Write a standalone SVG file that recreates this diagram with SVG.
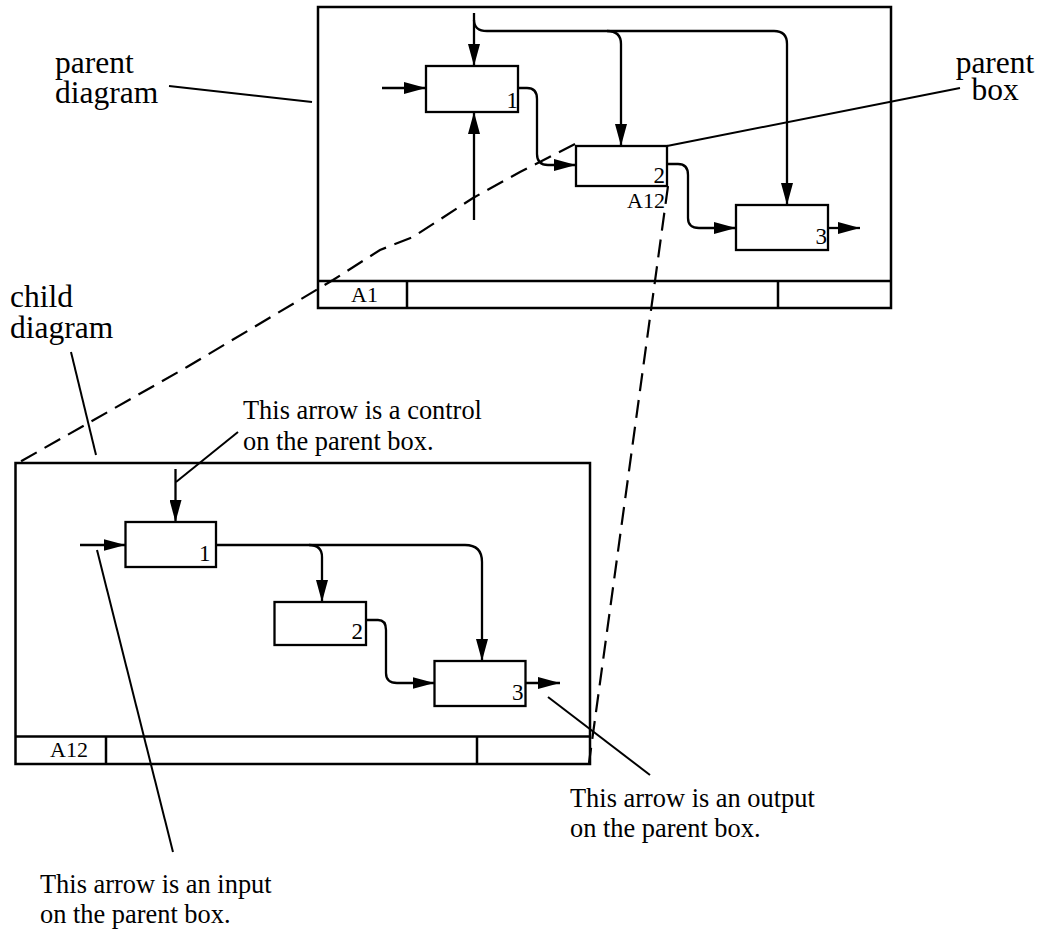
<svg xmlns="http://www.w3.org/2000/svg" width="1040" height="932" viewBox="0 0 1040 932">
<style>
  .frame{fill:none;stroke:#000;stroke-width:2.5}
  .box{fill:#fff;stroke:#000;stroke-width:2.3}
  .conn{fill:none;stroke:#000;stroke-width:2.3;marker-end:url(#ah)}
  .line{fill:none;stroke:#000;stroke-width:2.3}
  .ptr{fill:none;stroke:#000;stroke-width:2}
  .dash{fill:none;stroke:#000;stroke-width:2.2;stroke-dasharray:18 9}
  .lbl{font-family:"Liberation Serif","Times New Roman",serif;font-size:31.5px;fill:#000}
  .note{font-family:"Liberation Serif","Times New Roman",serif;font-size:26.4px;fill:#000}
  .num{font-family:"Liberation Serif","Times New Roman",serif;font-size:23px;fill:#000;text-anchor:end}
  .tag{font-family:"Liberation Serif","Times New Roman",serif;font-size:22px;fill:#000}
</style>
<defs>
  <marker id="ah" markerUnits="userSpaceOnUse" markerWidth="22" markerHeight="12" viewBox="0 0 22 12" refX="22" refY="6" orient="auto">
    <path d="M0,0 L22,6 L0,12 z" fill="#000"/>
  </marker>
</defs>

<g id="parent-diagram">
  <rect class="frame" x="318" y="7" width="573" height="301"/>
  <line class="frame" x1="318" y1="281" x2="891" y2="281"/>
  <line class="frame" x1="407" y1="281" x2="407" y2="308"/>
  <line class="frame" x1="778" y1="281" x2="778" y2="308"/>
  <text class="tag" x="351" y="302">A1</text>
</g>
<g id="p-box1">
  <rect class="box" x="426" y="66" width="92" height="46"/>
  <text class="num" x="518" y="108">1</text>
</g>
<g id="p-box2">
  <rect class="box" x="576" y="146" width="91" height="40"/>
  <text class="num" x="665" y="182.5">2</text>
  <text class="tag" x="665" y="208" text-anchor="end">A12</text>
</g>
<g id="p-box3">
  <rect class="box" x="736" y="205" width="92" height="45"/>
  <text class="num" x="827" y="244">3</text>
</g>

<g id="child-diagram">
  <rect class="frame" x="15.5" y="463" width="574.5" height="301"/>
  <line class="frame" x1="15.5" y1="736.5" x2="590" y2="736.5"/>
  <line class="frame" x1="106" y1="736.5" x2="106" y2="764"/>
  <line class="frame" x1="477" y1="736.5" x2="477" y2="764"/>
  <text class="tag" x="50" y="757">A12</text>
</g>
<g id="c-box1">
  <rect class="box" x="125.5" y="522" width="90.5" height="45"/>
  <text class="num" x="210.5" y="561">1</text>
</g>
<g id="c-box2">
  <rect class="box" x="274.5" y="602" width="91.5" height="43"/>
  <text class="num" x="363" y="638.5">2</text>
</g>
<g id="c-box3">
  <rect class="box" x="434.5" y="661" width="91" height="45"/>
  <text class="num" x="523.5" y="699.5">3</text>
</g>

<g id="connectors">
  <!-- parent -->
  <path class="conn" d="M382,88 L426,88"/>
  <path class="conn" d="M474,13 L474,66"/>
  <path class="conn" d="M474,20 Q474,31 487,31 L774,31 Q787,31 787,44 L787,205"/>
  <path class="conn" d="M607,31 Q621,31 621,44 L621,146"/>
  <path class="conn" d="M474,220 L474,112"/>
  <path class="conn" d="M518,88 L527,88 Q537,88 537,99 L537,154 Q537,165 548,165 L576,165"/>
  <path class="conn" d="M667,164 L678,164 Q688,164 688,175 L688,218 Q688,228 699,228 L736,228"/>
  <path class="conn" d="M828,228 L860,228"/>
  <!-- child -->
  <path class="conn" d="M80,545 L125.5,545"/>
  <path class="conn" d="M175.5,469 L175.5,522"/>
  <path class="conn" d="M216,545 L465,545 Q482,545 482,562 L482,661"/>
  <path class="conn" d="M309,545 Q322,545 322,557 L322,602"/>
  <path class="conn" d="M366,620 L378,620 Q386,620 386,630 L386,673 Q386,683 397,683 L434.5,683"/>
  <path class="conn" d="M525.5,683 L560,683"/>
  <!-- dashed correspondence lines -->
  <path class="dash" d="M575,144 L520,172 L473,198 L413,237 L380,250 L333,280 L187,367 L18,463"/>
  <path class="dash" d="M668,186 L589,763"/>
  <!-- pointer lines -->
  <line class="ptr" x1="169" y1="86" x2="312" y2="102"/>
  <line class="ptr" x1="667" y1="146" x2="960" y2="88"/>
  <line class="ptr" x1="71" y1="352" x2="96" y2="455"/>
  <line class="ptr" x1="176" y1="482" x2="238" y2="432"/>
  <line class="ptr" x1="97" y1="550" x2="173" y2="852"/>
  <line class="ptr" x1="548" y1="697" x2="650" y2="775"/>
</g>

<g id="labels">
  <text class="lbl" x="55" y="73">parent</text>
  <text class="lbl" x="55" y="103">diagram</text>
  <text class="lbl" x="995" y="73" text-anchor="middle">parent</text>
  <text class="lbl" x="995" y="100" text-anchor="middle">box</text>
  <text class="lbl" x="10" y="307">child</text>
  <text class="lbl" x="10" y="338">diagram</text>
  <text class="note" x="243" y="419">This arrow is a control</text>
  <text class="note" x="243" y="450">on the parent box.</text>
  <text class="note" x="570" y="807">This arrow is an output</text>
  <text class="note" x="570" y="837">on the parent box.</text>
  <text class="note" x="40" y="893">This arrow is an input</text>
  <text class="note" x="40" y="923">on the parent box.</text>
</g>
</svg>
